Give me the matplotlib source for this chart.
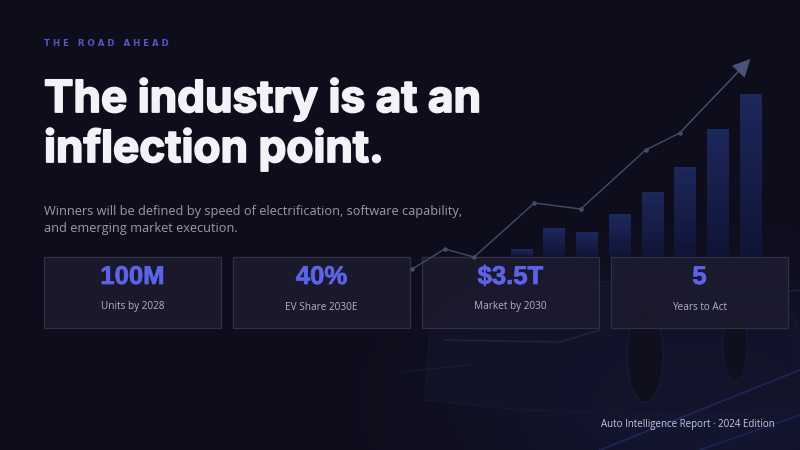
import matplotlib
matplotlib.use("Agg")
import matplotlib.pyplot as plt
from matplotlib.patches import Rectangle, Ellipse, Polygon
from matplotlib.colors import LinearSegmentedColormap
import matplotlib.patheffects as pe
import numpy as np

# ---- data ----
eyebrow = "THE ROAD AHEAD"
title_lines = ["The industry is at an", "inflection point."]
subtitle_lines = ["Winners will be defined by speed of electrification, software capability,",
                  "and emerging market execution."]
card_values = ["100M", "40%", "$3.5T", "5"]
card_labels = ["Units by 2028", "EV Share 2030E", "Market by 2030", "Years to Act"]
footer = "Auto Intelligence Report · 2024 Edition"

# decorative growth chart (background art)
bar_heights = [8, 29, 25, 43, 65, 90, 128, 163]
trend_x = [-0.25, 0.8, 1.75, 3.7, 5.2, 7.3, 8.4, 10.75]
trend_y = [-14, 6, -2, 52, 46, 105, 122, 198]

BG = "#0e0d1b"
fig = plt.figure(figsize=(8, 4.5), dpi=100, facecolor=BG)

ax = fig.add_axes([0, 0, 1, 1])
ax.set_xlim(0, 800)
ax.set_ylim(450, 0)
ax.axis("off")
ax.set_facecolor(BG)

# subtle glow to the lower right
gy, gx = np.mgrid[0:450, 0:800]
glow = np.exp(-(((gx - 700) / 230.0) ** 2 + ((gy - 400) / 120.0) ** 2))
img = np.zeros((450, 800, 4))
img[..., 0] = 0.18
img[..., 1] = 0.24
img[..., 2] = 0.55
img[..., 3] = 0.20 * glow
ax.imshow(img, extent=[0, 800, 450, 0], zorder=0, aspect="auto")

# faint car silhouette
body = Polygon([(425, 400), (430, 330), (455, 300), (520, 285), (640, 280), (740, 290),
                (790, 310), (800, 330), (800, 410), (700, 415), (520, 410)],
               closed=True, facecolor="#13132a", edgecolor="#1b1b32", lw=0.7,
               alpha=0.8, zorder=1)
ax.add_patch(body)
ax.add_patch(Ellipse((645, 355), 36, 95, facecolor="#0f0f1d", edgecolor="#1f1f38",
                     lw=0.6, zorder=1.1))
ax.add_patch(Ellipse((735, 345), 24, 72, facecolor="#0f0f1d", edgecolor="#1b1b33",
                     lw=0.6, zorder=1.1))
ax.plot([445, 560, 600], [340, 342, 330], color="#25253f", lw=0.9, zorder=1.2)
# light streaks
for (x0, y0, x1, y1, a) in [(600, 450, 800, 370, 0.28), (700, 450, 800, 415, 0.22),
                             (690, 300, 800, 290, 0.18), (400, 372, 470, 365, 0.10)]:
    ax.plot([x0, x1], [y0, y1], color="#3f5bd6", lw=1.2, alpha=a, zorder=1.2)

# decorative bars with vertical gradient
cax = fig.add_axes([505 / 800, 1 - 257 / 450, 262 / 800, 200 / 450])
cax.axis("off")
cax.patch.set_alpha(0)
bx = np.arange(len(bar_heights))
bars = cax.bar(bx, bar_heights, width=0.66, color="none", zorder=1)
grad = np.linspace(0, 1, 256).reshape(-1, 1)
cmap = LinearSegmentedColormap.from_list("bars", ["#11163a", "#202d68"])
for b in bars:
    x0, w, h = b.get_x(), b.get_width(), b.get_height()
    im = cax.imshow(grad, extent=[x0, x0 + w, 0, h], origin="lower", cmap=cmap,
                    aspect="auto", alpha=0.85, zorder=1)
    im.set_clip_path(b)
cax.set_xlim(-0.5, 7.5)
cax.set_ylim(0, 200)

lax = fig.add_axes([420 / 800, 1 - 265 / 450, 340 / 800, 215 / 450])
lax.set_xlim(0, 11)
lax.set_ylim(-10, 205)
lax.axis("off")
lax.patch.set_alpha(0)
lax.plot(trend_x[:-1], trend_y[:-1], color="#454b6b", lw=1.0, marker="o", ms=2.3,
         zorder=2, clip_on=False)
lax.annotate("", xy=(trend_x[-1], trend_y[-1]), xytext=(trend_x[-2], trend_y[-2]),
             arrowprops=dict(arrowstyle="-|>,head_length=1.1,head_width=0.55",
                             color="#4b5275", lw=1.0))

# ---- text ----
ax.text(44, 44, "   ".join(" ".join(w) for w in eyebrow.split()), color="#5a55c4",
        fontsize=6.2, fontweight="bold", family="DejaVu Sans", va="center", ha="left",
        zorder=5)
thick = [pe.withStroke(linewidth=1.3, foreground="#f3f2f8")]
for i, line in enumerate(title_lines):
    ax.text(44, 112 + 50 * i, line, color="#f3f2f8", fontsize=31.8, fontweight="bold",
            family="Inter", va="baseline", ha="left", zorder=5, path_effects=thick)
for i, line in enumerate(subtitle_lines):
    ax.text(44, 212 + 16.5 * i, line, color="#9b9aad", fontsize=9.2,
            family="Open Sans", va="center", ha="left", zorder=5)

# cards
card_x = [44, 233, 422, 611]
cw, ch, cy = 177, 71, 257
numfx = [pe.withStroke(linewidth=0.5, foreground="#5c63e6")]
for x, v, l in zip(card_x, card_values, card_labels):
    ax.add_patch(Rectangle((x, cy), cw, ch, facecolor="#1c1b2f", alpha=0.88,
                           edgecolor="#34334b", lw=0.9, zorder=4))
    ax.text(x + cw / 2, cy + 20, v, color="#5c63e6", fontsize=18.5, fontweight="bold",
            family="Liberation Sans", ha="center", va="center", zorder=5,
            path_effects=numfx)
    ax.text(x + cw / 2, cy + 50, l, color="#b3b2c2", fontsize=7.2,
            family="Open Sans", ha="center", va="center", zorder=5)

ax.text(775, 425, footer, color="#c9c8d6", fontsize=7, family="Open Sans",
        ha="right", va="center", zorder=5)

fig.savefig("out.png", dpi=100, facecolor=BG)
